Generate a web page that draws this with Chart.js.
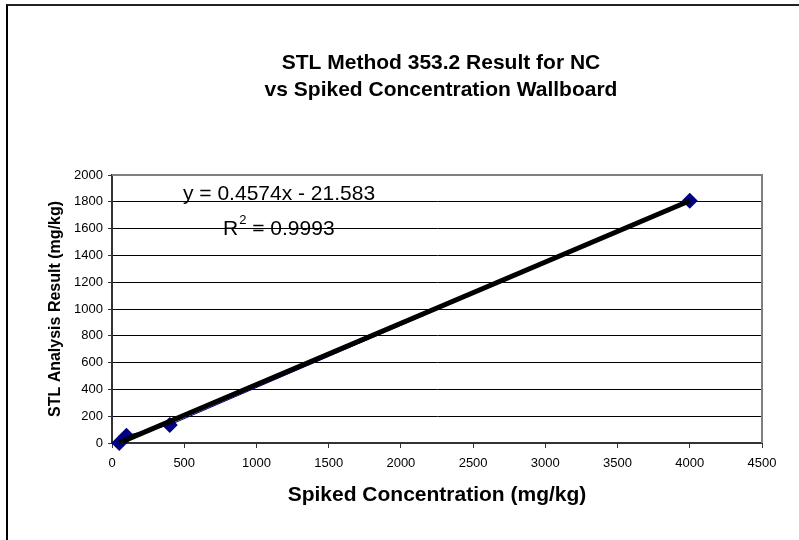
<!DOCTYPE html>
<html>
<head>
<meta charset="utf-8">
<script src="https://cdn.jsdelivr.net/npm/chart.js@4/dist/chart.umd.min.js"></script>
<style>
  body { margin: 0; background: #fff; }
  #wrap { position: relative; width: 799px; height: 540px; }
  #frame { position: absolute; left: 6px; top: 4px; right: 0; bottom: 0;
           border-left: 2px solid #000; border-top: 2px solid #222; pointer-events: none; }
</style>
</head>
<body>
<div id="wrap">
  <canvas id="myChart" width="799" height="540"></canvas>
  <div id="frame"></div>
</div>
<script>
// values
var spikedConc = [50, 100, 400, 4000]
var stlResult = [0, 55, 135, 1808]

// trendline end points (y = 0.4574x - 21.583, drawn over the data range)
var trendX = [50, 4000]
var trendY = [1, 1808]

var xTickLabels = [0, 500, 1000, 1500, 2000, 2500, 3000, 3500, 4000, 4500]
var yTickLabels = [0, 200, 400, 600, 800, 1000, 1200, 1400, 1600, 1800, 2000]

var titleLines = ['STL Method 353.2 Result for NC', 'vs Spiked Concentration Wallboard']
var equationText = 'y = 0.4574x - 21.583'
var rSquared = '0.9993'

var FONT = '"Liberation Sans", Arial, sans-serif'

function toPoints(xs, ys) {
    return xs.map(function (x, i) { return {x: x, y: ys[i]} })
}

// title, equation and the grey plot border
var extras = {
    id: 'extras',
    beforeDatasetsDraw: function (chart) {
        var ctx = chart.ctx, a = chart.chartArea
        ctx.save()
        ctx.strokeStyle = '#808080'
        ctx.lineWidth = 2
        ctx.beginPath()
        ctx.moveTo(a.left, a.top)
        ctx.lineTo(a.right, a.top)
        ctx.lineTo(a.right, a.bottom)
        ctx.stroke()
        ctx.restore()
    },
    afterDraw: function (chart) {
        var ctx = chart.ctx
        ctx.save()
        ctx.fillStyle = '#000'
        ctx.textAlign = 'center'
        ctx.textBaseline = 'middle'
        ctx.font = 'bold 21px ' + FONT
        ctx.fillText(titleLines[0], 441, 63)
        ctx.fillText(titleLines[1], 441, 90)

        ctx.textAlign = 'left'
        ctx.textBaseline = 'alphabetic'
        ctx.font = '21px ' + FONT
        ctx.fillText(equationText, 183, 200)
        var x = 223
        ctx.fillText('R', x, 235)
        x += ctx.measureText('R').width
        ctx.font = '13px ' + FONT
        ctx.fillText('2', x + 1, 224)
        x += ctx.measureText('2').width + 1
        ctx.font = '21px ' + FONT
        ctx.fillText(' = ' + rSquared, x, 235)
        ctx.restore()
    }
}

var chart = new Chart(document.getElementById('myChart'), {
    type: 'scatter',
    data: {
        datasets: [
            {
                label: 'trend',
                data: toPoints(trendX, trendY),
                showLine: true,
                borderColor: '#000',
                borderWidth: 5,
                pointRadius: 0,
                order: 0
            },
            {
                label: 'result',
                data: toPoints(spikedConc, stlResult),
                showLine: true,
                borderColor: '#000080',
                borderWidth: 1,
                backgroundColor: '#000080',
                pointStyle: 'rectRot',
                pointRadius: 8,
                pointBorderWidth: 0,
                clip: false,
                order: 1
            }
        ]
    },
    options: {
        responsive: false,
        animation: false,
        layout: { padding: { left: 10, right: 37, top: 175, bottom: 10 } },
        plugins: {
            legend: { display: false },
            tooltip: { enabled: false }
        },
        scales: {
            x: {
                type: 'linear',
                min: 0,
                max: 4500,
                afterBuildTicks: function (s) { s.ticks = xTickLabels.map(function (v) { return {value: v} }) },
                afterFit: function (s) { s.height = 87 },
                ticks: {
                    color: '#000',
                    font: { family: FONT, size: 13 },
                    padding: 8,
                    maxRotation: 0,
                    callback: function (v) { return String(v) }
                },
                grid: { drawOnChartArea: false, drawTicks: true, tickLength: 5, color: '#333' },
                border: { display: true, color: '#333', width: 2 },
                title: {
                    display: true,
                    text: 'Spiked Concentration (mg/kg)',
                    color: '#000',
                    font: { family: FONT, size: 21, weight: 'bold' },
                    padding: { top: 0, bottom: 22 }
                }
            },
            y: {
                type: 'linear',
                min: 0,
                max: 2000,
                afterBuildTicks: function (s) { s.ticks = yTickLabels.map(function (v) { return {value: v} }) },
                afterFit: function (s) { s.width = 102 },
                ticks: {
                    color: '#000',
                    font: { family: FONT, size: 13 },
                    padding: 5,
                    callback: function (v) { return String(v) }
                },
                grid: { color: '#000', lineWidth: 1, tickLength: 4, tickColor: '#333' },
                border: { display: true, color: '#333', width: 2 },
                title: {
                    display: true,
                    text: 'STL Analysis Result (mg/kg)',
                    color: '#000',
                    font: { family: FONT, size: 16, weight: 'bold' },
                    padding: { top: 36, bottom: 0 }
                }
            }
        }
    },
    plugins: [extras]
})
</script>
</body>
</html>
